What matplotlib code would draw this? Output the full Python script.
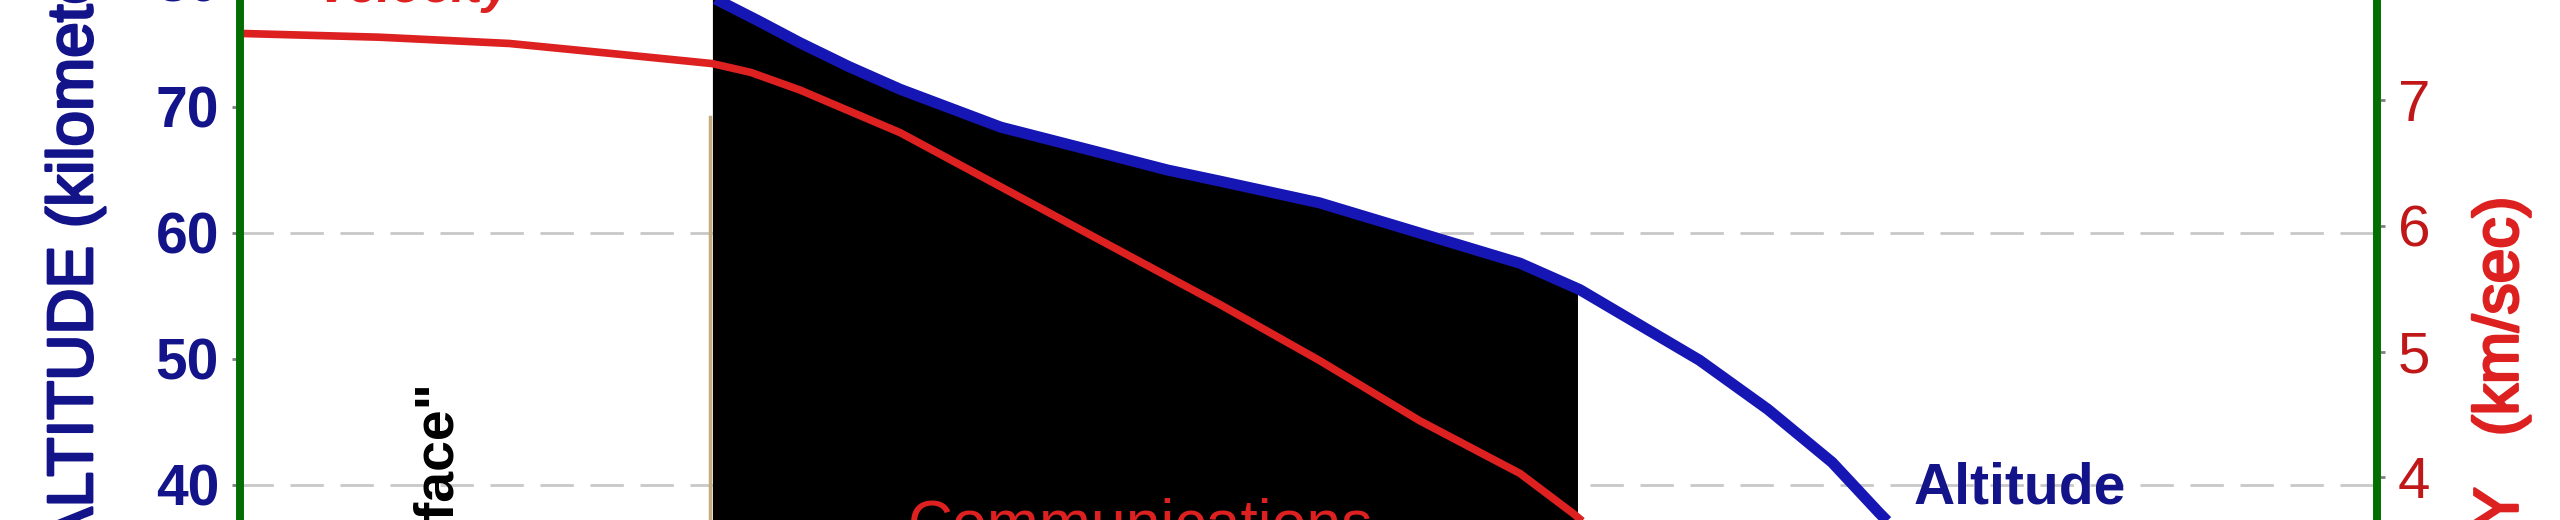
import numpy as np
import matplotlib
matplotlib.use("Agg")
import matplotlib.pyplot as plt
import matplotlib.patheffects as pe

plt.rcParams['font.family'] = ['Liberation Sans', 'DejaVu Sans']

# time since entry (s)
TIME_ALT = [145, 192, 215, 221, 243, 262, 285, 309, 356, 402, 434, 459,
            505, 552, 599, 627, 661, 683, 715, 745, 767, 782]
ALTITUDE = [87.2, 82.1, 79.6, 78.7, 76.8, 75.1, 73.2, 71.4, 68.4, 66.4, 65.0, 64.1,
            62.4, 60.0, 57.6, 55.5, 52.1, 49.9, 46.0, 41.8, 37.8, 35.2]

TIME_VEL = [0, 65, 126, 174, 221, 239, 262, 309, 356, 402, 459, 505,
            552, 599, 624, 636]
VELOCITY = [7.53, 7.50, 7.45, 7.37, 7.29, 7.22, 7.08, 6.74, 6.31, 5.89, 5.37, 4.93,
            4.45, 4.03, 3.71, 3.54]

BLACKOUT = [221.3, 626.1]
GRID_ALT = [20, 40, 60, 80]
ALT_TICKS = list(range(0, 100, 10))
VEL_TICKS = list(range(0, 10))

NAVY = '#14148a'
BLUE = '#1616b4'
RED = '#dd2020'
DARKRED = '#c01818'
GREEN = '#006e00'

fig = plt.figure(figsize=(25.6, 5.2), dpi=100)
ax = fig.add_axes([240 / 2560, 1 - 989 / 520, 2137 / 2560, 1197 / 520])
ax2 = ax.twinx()

ax.set_xlim(0, 1000)
ax.set_ylim(0, 95)
ax2.set_ylim(-0.07, 9.45)

for g in GRID_ALT:
    ax.axhline(g, color='#c8c8c8', lw=2, ls=(0, (12, 6)), zorder=0.5)

# blackout region under the altitude curve
xs = [BLACKOUT[0]] + [t for t in TIME_ALT if BLACKOUT[0] < t < BLACKOUT[1]] + [BLACKOUT[1]]
ys = np.interp(xs, TIME_ALT, ALTITUDE)
ax.fill_between(xs, 0, ys, color='black', lw=0, zorder=1)
ax.plot([BLACKOUT[0] - 1.5] * 2, [0, 69.2], color='#c4ac80', lw=2.5, zorder=1.2)

ax.plot(TIME_ALT, ALTITUDE, color=BLUE, lw=8, solid_capstyle='butt',
        solid_joinstyle='round', zorder=2)
ax2.plot(TIME_VEL, VELOCITY, color=RED, lw=5.5, solid_capstyle='butt',
         solid_joinstyle='round')

ax.set_yticks(ALT_TICKS)
ax2.set_yticks(VEL_TICKS)
ax.set_xticks([])
ax.tick_params(axis='y', direction='out', length=6, width=2, color='#808080',
               labelcolor=NAVY, labelsize=41, pad=9)
ax2.tick_params(axis='y', direction='out', length=6, width=2, color='#808080',
                labelcolor=DARKRED, labelsize=42, pad=9)
for lab in ax.get_yticklabels():
    lab.set_fontweight('bold')

for a in (ax, ax2):
    a.spines['top'].set_visible(False)
    a.spines['bottom'].set_visible(False)
    a.spines['left'].set_color(GREEN)
    a.spines['right'].set_color(GREEN)
    a.spines['left'].set_linewidth(5.5)
    a.spines['right'].set_linewidth(5.5)

# axis titles: regular face, thickened a little
fig.text(75 / 2560, 1 - 550 / 520, 'ALTITUDE (kilometers)', rotation=90,
         ha='center', va='bottom', color=NAVY, fontsize=46,
         path_effects=[pe.withStroke(linewidth=2, foreground=NAVY)])
fig.text(2501 / 2560, 1 - 197 / 520, 'VELOCITY   (km/sec)', rotation=90,
         ha='center', va='top', color=RED, fontsize=45,
         path_effects=[pe.withStroke(linewidth=2, foreground=RED)])

ax.text(36, 78.3, 'Velocity', color=RED, fontsize=37, fontweight='bold',
        fontstyle='italic', ha='left', va='baseline')
ax.text(93.6, 48.1, '"Entry Interface"', rotation=90, color='black', fontsize=40,
        fontweight='bold', ha='center', va='top')
ax.text(421.6, 39.0, 'Communications\nBlackout', color=RED, fontsize=45,
        ha='center', va='top', zorder=3)
ax.text(783, 38.57, 'Altitude', color=NAVY, fontsize=41, fontweight='bold',
        ha='left', va='baseline')

fig.savefig('out.png', dpi=100)
